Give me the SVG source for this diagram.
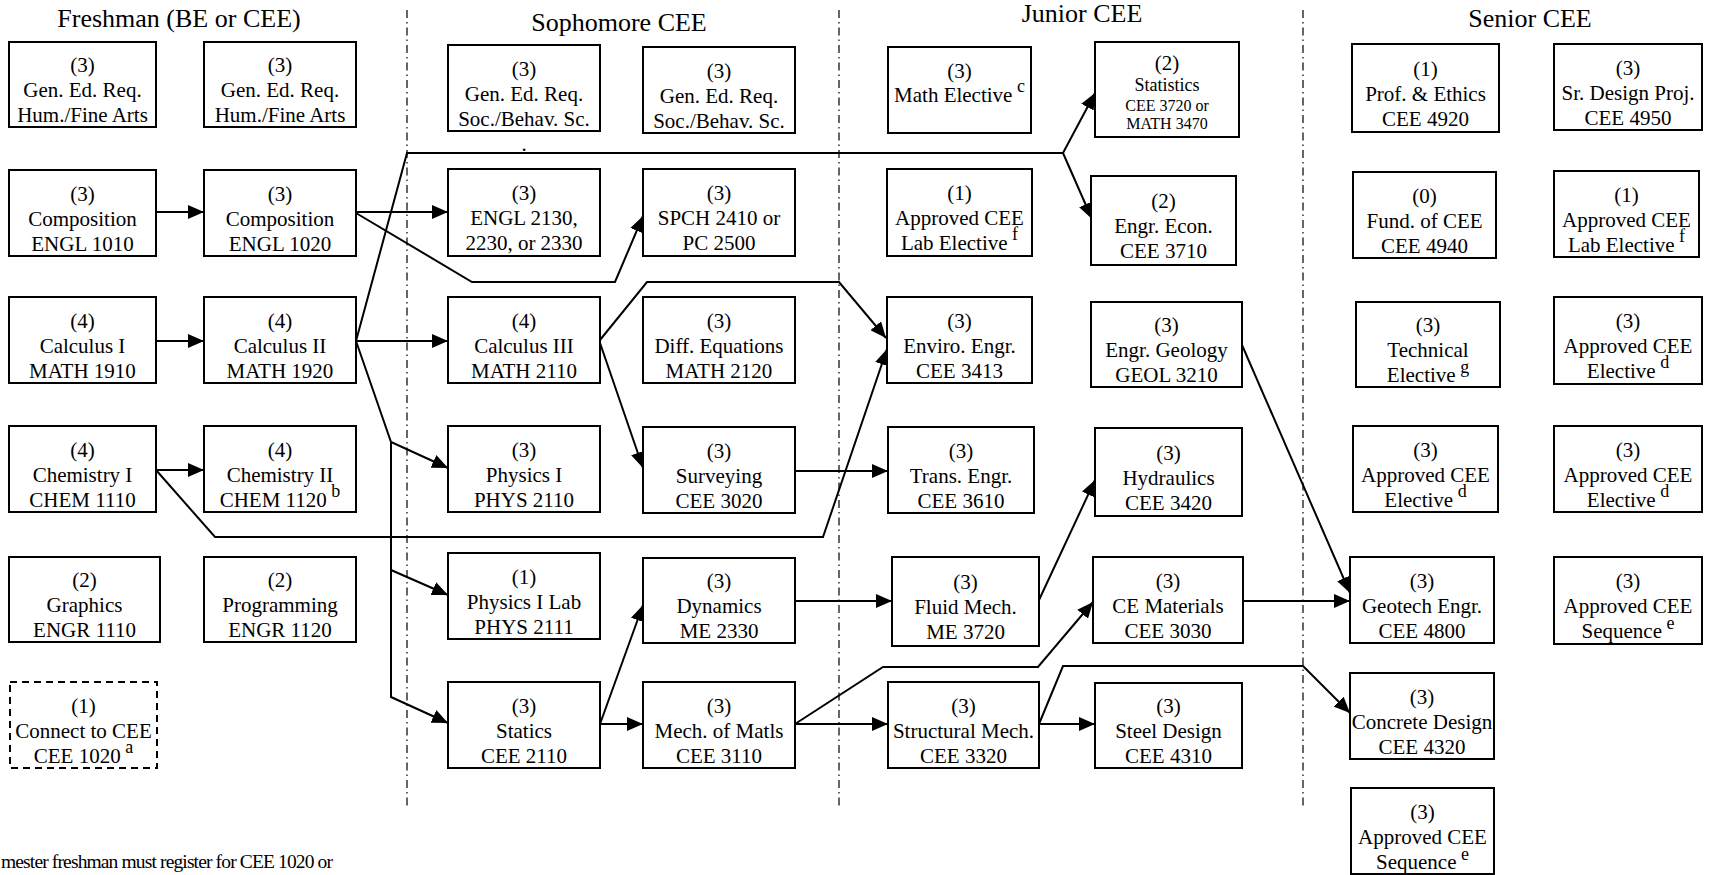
<svg xmlns="http://www.w3.org/2000/svg" width="1709" height="875" viewBox="0 0 1709 875">
<style>
text{font-family:"Liberation Serif","Times New Roman",serif;font-size:21px;text-anchor:middle;fill:#000}
.title{font-size:26px}
.sup{font-size:18px}
.s18{font-size:18px}
.s16{font-size:16px}
.box rect{fill:#fff;stroke:#000;stroke-width:2}
.dash rect{stroke-dasharray:7 5}
.conn path{fill:none;stroke:#000;stroke-width:2}
.conn .a{marker-end:url(#ah)}
.div line{stroke:#333;stroke-width:1.5;stroke-dasharray:8 4 1.5 4}
</style>
<defs>
<marker id="ah" markerUnits="userSpaceOnUse" markerWidth="16" markerHeight="14" refX="16" refY="7" orient="auto"><path d="M0,0 L16,7 L0,14 z" fill="#000"/></marker>
</defs>
<rect width="1709" height="875" fill="#fff"/>
<g id="dividers" class="div">
<line x1="407" y1="10" x2="407" y2="807"/>
<line x1="839" y1="10" x2="839" y2="807"/>
<line x1="1303" y1="10" x2="1303" y2="807"/>
</g>
<g id="titles">
<text class="title" x="179" y="27">Freshman (BE or CEE)</text>
<text class="title" x="619" y="31">Sophomore CEE</text>
<text class="title" x="1082" y="22">Junior CEE</text>
<text class="title" x="1530" y="27">Senior CEE</text>
</g>
<g id="connectors" class="conn">
<path class="a" d="M156,212 L204,212"/>
<path class="a" d="M156,341 L204,341"/>
<path class="a" d="M156,470 L204,470"/>
<path class="a" d="M356,212 L448,212"/>
<path class="a" d="M356,341 L448,341"/>
<path class="a" d="M356,213 L472,282 L615,282 L643,216"/>
<path class="a" d="M356,341 L407,153 L1063,153 L1095,93"/>
<path class="a" d="M1063,153 L1092,219"/>
<path class="a" d="M356,341 L391,442 L448,468"/>
<path class="a" d="M391,442 L391,697 L448,723"/>
<path class="a" d="M391,570 L448,595"/>
<path class="a" d="M600,340 L647,282 L839,282 L886,338"/>
<path class="a" d="M600,343 L643,468"/>
<path class="a" d="M156,470 L215,537 L823,537 L887,349"/>
<path class="a" d="M795,471 L888,471"/>
<path class="a" d="M600,724 L643,724"/>
<path class="a" d="M600,724 L643,605"/>
<path class="a" d="M795,601 L892,601"/>
<path class="a" d="M795,724 L888,724"/>
<path class="a" d="M795,724 L883,667 L1038,667 L1093,602"/>
<path class="a" d="M1039,600 L1095,480"/>
<path class="a" d="M1039,724 L1095,724"/>
<path class="a" d="M1039,724 L1063,666 L1303,666 L1350,713"/>
<path class="a" d="M1243,601 L1350,601"/>
<path class="a" d="M1242,345 L1350,593"/>
</g>
<g id="n-gen1" class="box"><rect x="9" y="42" width="147" height="85"/><text x="82.5" y="72">(3)</text><text x="82.5" y="97">Gen. Ed. Req.</text><text x="82.5" y="122">Hum./Fine Arts</text></g>
<g id="n-gen2" class="box"><rect x="204" y="42" width="152" height="85"/><text x="280" y="72">(3)</text><text x="280" y="97">Gen. Ed. Req.</text><text x="280" y="122">Hum./Fine Arts</text></g>
<g id="n-engl1010" class="box"><rect x="9" y="170" width="147" height="86"/><text x="82.5" y="200.5">(3)</text><text x="82.5" y="225.5">Composition</text><text x="82.5" y="250.5">ENGL 1010</text></g>
<g id="n-engl1020" class="box"><rect x="204" y="170" width="152" height="86"/><text x="280" y="200.5">(3)</text><text x="280" y="225.5">Composition</text><text x="280" y="250.5">ENGL 1020</text></g>
<g id="n-math1910" class="box"><rect x="9" y="297" width="147" height="86"/><text x="82.5" y="327.5">(4)</text><text x="82.5" y="352.5">Calculus I</text><text x="82.5" y="377.5">MATH 1910</text></g>
<g id="n-math1920" class="box"><rect x="204" y="297" width="152" height="86"/><text x="280" y="327.5">(4)</text><text x="280" y="352.5">Calculus II</text><text x="280" y="377.5">MATH 1920</text></g>
<g id="n-chem1110" class="box"><rect x="9" y="426" width="147" height="86"/><text x="82.5" y="456.5">(4)</text><text x="82.5" y="481.5">Chemistry I</text><text x="82.5" y="506.5">CHEM 1110</text></g>
<g id="n-chem1120" class="box"><rect x="204" y="426" width="152" height="86"/><text x="280" y="456.5">(4)</text><text x="280" y="481.5">Chemistry II</text><text x="280" y="506.5">CHEM 1120<tspan class="sup" dy="-10"> b</tspan></text></g>
<g id="n-engr1110" class="box"><rect x="9" y="557" width="151" height="85"/><text x="84.5" y="587">(2)</text><text x="84.5" y="612">Graphics</text><text x="84.5" y="637">ENGR 1110</text></g>
<g id="n-engr1120" class="box"><rect x="204" y="557" width="152" height="85"/><text x="280" y="587">(2)</text><text x="280" y="612">Programming</text><text x="280" y="637">ENGR 1120</text></g>
<g id="n-cee1020" class="box dash"><rect x="10" y="682" width="147" height="86"/><text x="83.5" y="712.5">(1)</text><text x="83.5" y="737.5">Connect to CEE</text><text x="83.5" y="762.5">CEE 1020<tspan class="sup" dy="-10"> a</tspan></text></g>
<g id="n-soc1" class="box"><rect x="448" y="45" width="152" height="86"/><text x="524" y="75.5">(3)</text><text x="524" y="100.5">Gen. Ed. Req.</text><text x="524" y="125.5">Soc./Behav. Sc.</text></g>
<text x="524" y="151">.</text>
<g id="n-soc2" class="box"><rect x="643" y="47" width="152" height="86"/><text x="719" y="77.5">(3)</text><text x="719" y="102.5">Gen. Ed. Req.</text><text x="719" y="127.5">Soc./Behav. Sc.</text></g>
<g id="n-engl2130" class="box"><rect x="448" y="169" width="152" height="87"/><text x="524" y="200">(3)</text><text x="524" y="225">ENGL 2130,</text><text x="524" y="250">2230, or 2330</text></g>
<g id="n-spch" class="box"><rect x="643" y="169" width="152" height="87"/><text x="719" y="200">(3)</text><text x="719" y="225">SPCH 2410 or</text><text x="719" y="250">PC 2500</text></g>
<g id="n-math2110" class="box"><rect x="448" y="297" width="152" height="86"/><text x="524" y="327.5">(4)</text><text x="524" y="352.5">Calculus III</text><text x="524" y="377.5">MATH 2110</text></g>
<g id="n-math2120" class="box"><rect x="643" y="297" width="152" height="86"/><text x="719" y="327.5">(3)</text><text x="719" y="352.5">Diff. Equations</text><text x="719" y="377.5">MATH 2120</text></g>
<g id="n-phys2110" class="box"><rect x="448" y="426" width="152" height="86"/><text x="524" y="456.5">(3)</text><text x="524" y="481.5">Physics I</text><text x="524" y="506.5">PHYS 2110</text></g>
<g id="n-cee3020" class="box"><rect x="643" y="427" width="152" height="86"/><text x="719" y="457.5">(3)</text><text x="719" y="482.5">Surveying</text><text x="719" y="507.5">CEE 3020</text></g>
<g id="n-phys2111" class="box"><rect x="448" y="553" width="152" height="86"/><text x="524" y="583.5">(1)</text><text x="524" y="608.5">Physics I Lab</text><text x="524" y="633.5">PHYS 2111</text></g>
<g id="n-me2330" class="box"><rect x="643" y="558" width="152" height="85"/><text x="719" y="588">(3)</text><text x="719" y="613">Dynamics</text><text x="719" y="638">ME 2330</text></g>
<g id="n-cee2110" class="box"><rect x="448" y="682" width="152" height="86"/><text x="524" y="712.5">(3)</text><text x="524" y="737.5">Statics</text><text x="524" y="762.5">CEE 2110</text></g>
<g id="n-cee3110" class="box"><rect x="643" y="682" width="152" height="86"/><text x="719" y="712.5">(3)</text><text x="719" y="737.5">Mech. of Matls</text><text x="719" y="762.5">CEE 3110</text></g>
<g id="n-mathel" class="box"><rect x="888" y="47" width="143" height="86"/><text x="959.5" y="78">(3)</text><text x="959.5" y="102">Math Elective<tspan class="sup" dy="-10"> c</tspan></text></g>
<g id="n-stats" class="box"><rect x="1095" y="42" width="144" height="95"/><text x="1167" y="70">(2)</text><text class="s18" x="1167" y="91">Statistics</text><text class="s16" x="1167" y="111">CEE 3720 or</text><text class="s16" x="1167" y="129">MATH 3470</text></g>
<g id="n-lab1" class="box"><rect x="887" y="169" width="145" height="87"/><text x="959.5" y="200">(1)</text><text x="959.5" y="225">Approved CEE</text><text x="959.5" y="250">Lab Elective<tspan class="sup" dy="-10"> f</tspan></text></g>
<g id="n-cee3710" class="box"><rect x="1091" y="176" width="145" height="89"/><text x="1163.5" y="208">(2)</text><text x="1163.5" y="233">Engr. Econ.</text><text x="1163.5" y="258">CEE 3710</text></g>
<g id="n-cee3413" class="box"><rect x="887" y="297" width="145" height="86"/><text x="959.5" y="327.5">(3)</text><text x="959.5" y="352.5">Enviro. Engr.</text><text x="959.5" y="377.5">CEE 3413</text></g>
<g id="n-geol3210" class="box"><rect x="1091" y="302" width="151" height="85"/><text x="1166.5" y="332">(3)</text><text x="1166.5" y="357">Engr. Geology</text><text x="1166.5" y="382">GEOL 3210</text></g>
<g id="n-cee3610" class="box"><rect x="888" y="427" width="146" height="86"/><text x="961" y="457.5">(3)</text><text x="961" y="482.5">Trans. Engr.</text><text x="961" y="507.5">CEE 3610</text></g>
<g id="n-cee3420" class="box"><rect x="1095" y="428" width="147" height="88"/><text x="1168.5" y="459.5">(3)</text><text x="1168.5" y="484.5">Hydraulics</text><text x="1168.5" y="509.5">CEE 3420</text></g>
<g id="n-me3720" class="box"><rect x="892" y="557" width="147" height="89"/><text x="965.5" y="589">(3)</text><text x="965.5" y="614">Fluid Mech.</text><text x="965.5" y="639">ME 3720</text></g>
<g id="n-cee3030" class="box"><rect x="1093" y="557" width="150" height="86"/><text x="1168" y="587.5">(3)</text><text x="1168" y="612.5">CE Materials</text><text x="1168" y="637.5">CEE 3030</text></g>
<g id="n-cee3320" class="box"><rect x="888" y="682" width="151" height="86"/><text x="963.5" y="712.5">(3)</text><text x="963.5" y="737.5">Structural Mech.</text><text x="963.5" y="762.5">CEE 3320</text></g>
<g id="n-cee4310" class="box"><rect x="1095" y="683" width="147" height="85"/><text x="1168.5" y="713">(3)</text><text x="1168.5" y="738">Steel Design</text><text x="1168.5" y="763">CEE 4310</text></g>
<g id="n-cee4920" class="box"><rect x="1352" y="44" width="147" height="88"/><text x="1425.5" y="75.5">(1)</text><text x="1425.5" y="100.5">Prof. &amp; Ethics</text><text x="1425.5" y="125.5">CEE 4920</text></g>
<g id="n-cee4950" class="box"><rect x="1554" y="44" width="148" height="86"/><text x="1628" y="74.5">(3)</text><text x="1628" y="99.5">Sr. Design Proj.</text><text x="1628" y="124.5">CEE 4950</text></g>
<g id="n-cee4940" class="box"><rect x="1353" y="172" width="143" height="86"/><text x="1424.5" y="202.5">(0)</text><text x="1424.5" y="227.5">Fund. of CEE</text><text x="1424.5" y="252.5">CEE 4940</text></g>
<g id="n-lab2" class="box"><rect x="1554" y="171" width="145" height="86"/><text x="1626.5" y="201.5">(1)</text><text x="1626.5" y="226.5">Approved CEE</text><text x="1626.5" y="251.5">Lab Elective<tspan class="sup" dy="-10"> f</tspan></text></g>
<g id="n-tech" class="box"><rect x="1356" y="302" width="144" height="85"/><text x="1428" y="332">(3)</text><text x="1428" y="357">Technical</text><text x="1428" y="382">Elective<tspan class="sup" dy="-9"> g</tspan></text></g>
<g id="n-apel1" class="box"><rect x="1554" y="297" width="148" height="87"/><text x="1628" y="328">(3)</text><text x="1628" y="353">Approved CEE</text><text x="1628" y="378">Elective<tspan class="sup" dy="-10"> d</tspan></text></g>
<g id="n-apel2" class="box"><rect x="1353" y="426" width="145" height="86"/><text x="1425.5" y="456.5">(3)</text><text x="1425.5" y="481.5">Approved CEE</text><text x="1425.5" y="506.5">Elective<tspan class="sup" dy="-10"> d</tspan></text></g>
<g id="n-apel3" class="box"><rect x="1554" y="426" width="148" height="86"/><text x="1628" y="456.5">(3)</text><text x="1628" y="481.5">Approved CEE</text><text x="1628" y="506.5">Elective<tspan class="sup" dy="-10"> d</tspan></text></g>
<g id="n-cee4800" class="box"><rect x="1350" y="557" width="144" height="86"/><text x="1422" y="587.5">(3)</text><text x="1422" y="612.5">Geotech Engr.</text><text x="1422" y="637.5">CEE 4800</text></g>
<g id="n-seq1" class="box"><rect x="1554" y="557" width="148" height="87"/><text x="1628" y="588">(3)</text><text x="1628" y="613">Approved CEE</text><text x="1628" y="638">Sequence<tspan class="sup" dy="-9"> e</tspan></text></g>
<g id="n-cee4320" class="box"><rect x="1350" y="673" width="144" height="86"/><text x="1422" y="703.5">(3)</text><text x="1422" y="728.5">Concrete Design</text><text x="1422" y="753.5">CEE 4320</text></g>
<g id="n-seq2" class="box"><rect x="1351" y="788" width="143" height="86"/><text x="1422.5" y="818.5">(3)</text><text x="1422.5" y="843.5">Approved CEE</text><text x="1422.5" y="868.5">Sequence<tspan class="sup" dy="-9"> e</tspan></text></g>
<text x="1" y="868" style="text-anchor:start;font-size:19.5px" textLength="332" lengthAdjust="spacing">mester freshman must register for CEE 1020 or</text>
</svg>
